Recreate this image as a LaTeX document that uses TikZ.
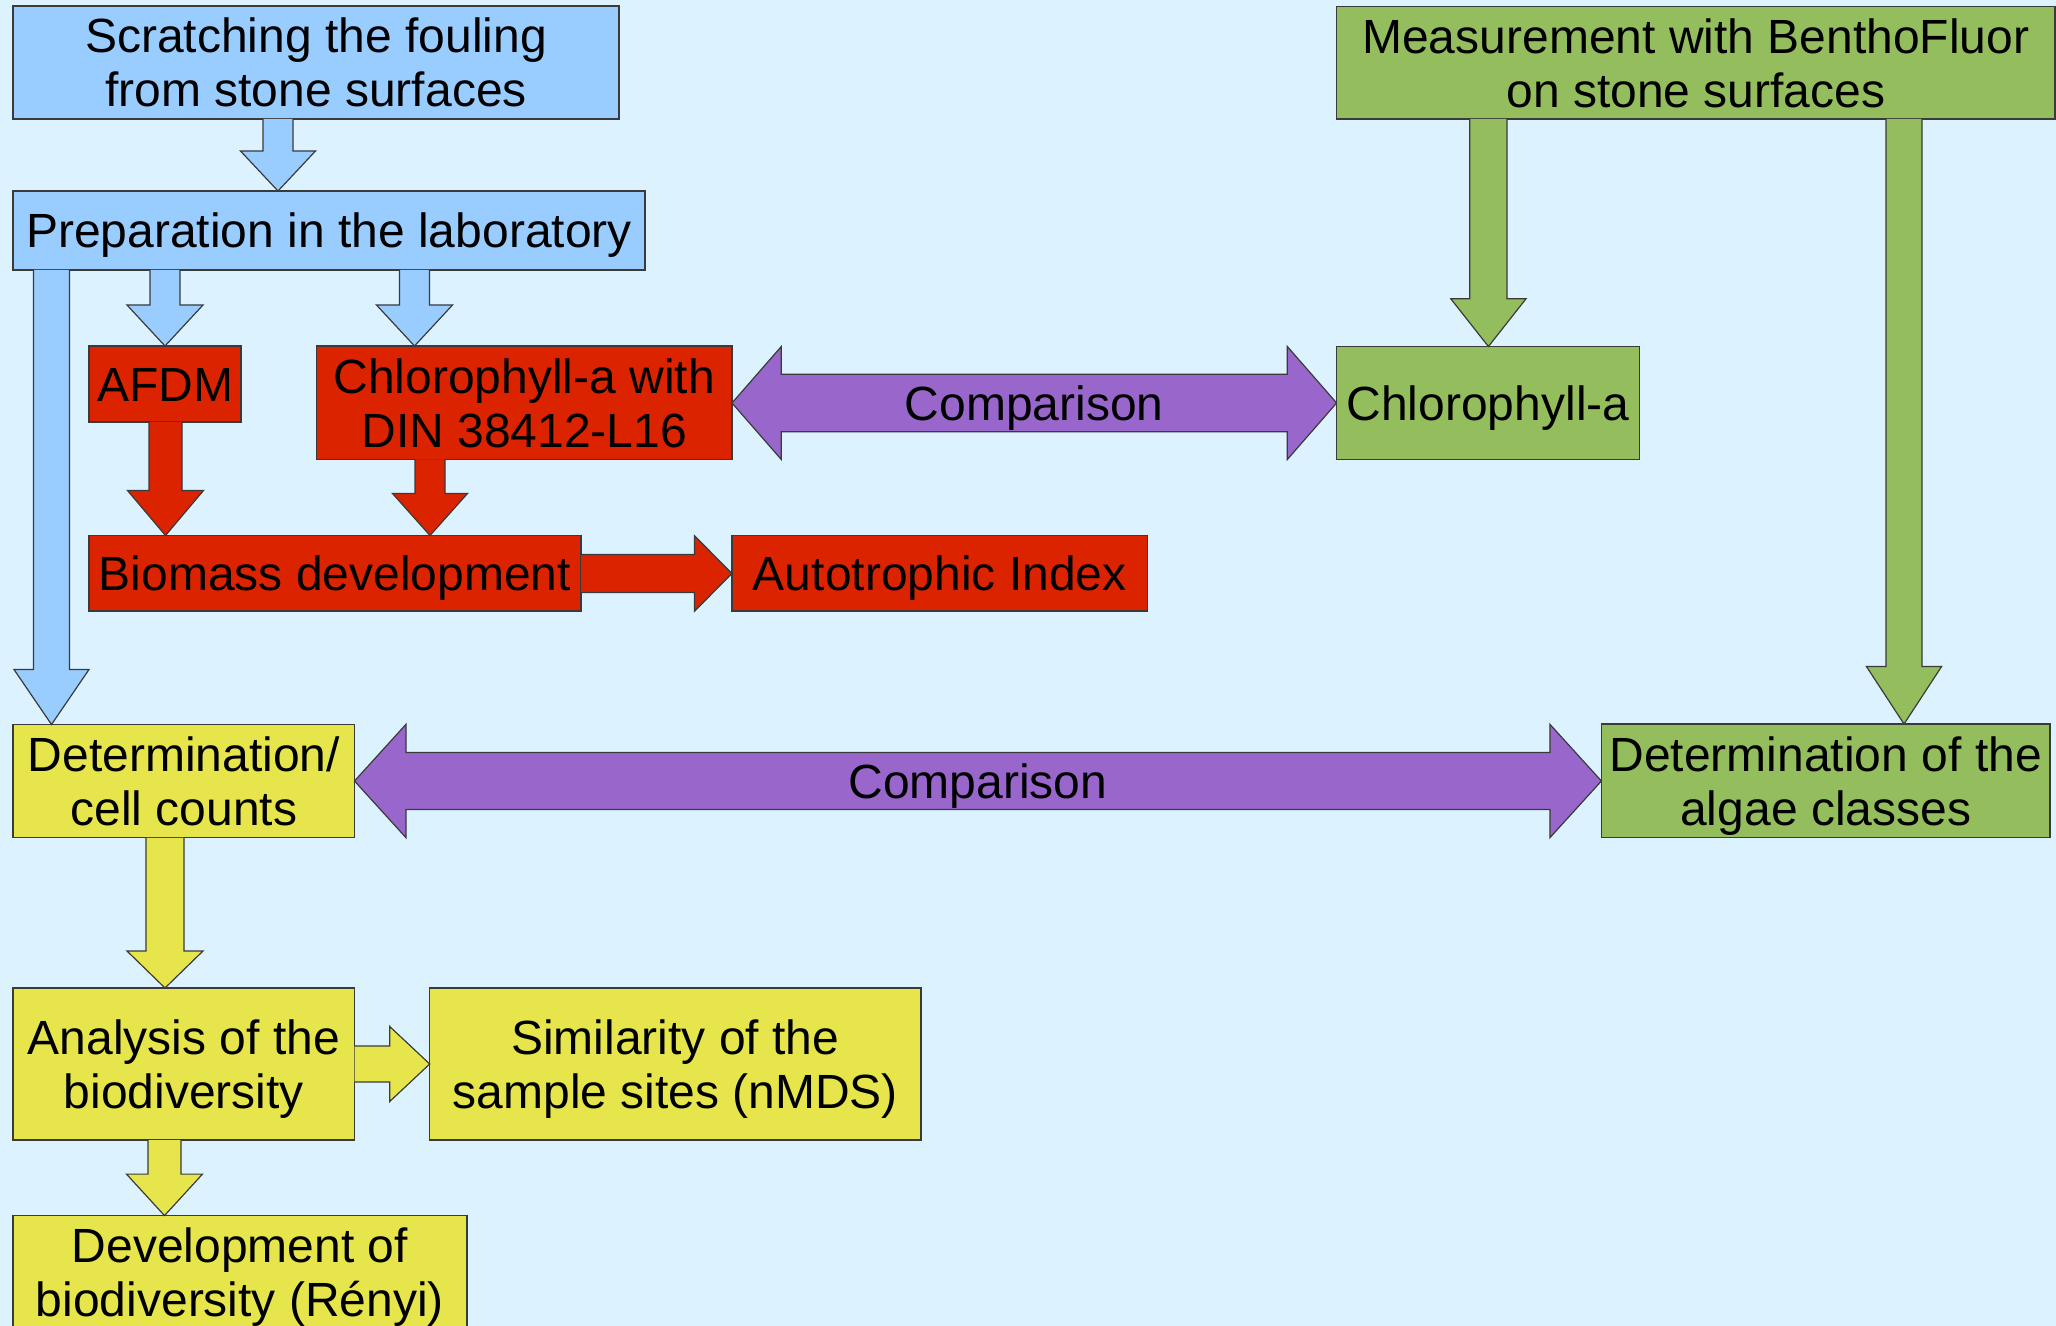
\documentclass[tikz,border=0pt]{standalone}
\usepackage{fontspec}
\setmainfont{Liberation Sans}
\usetikzlibrary{calc}
\definecolor{bgc}{HTML}{DCF3FF}
\definecolor{blu}{HTML}{99CCFF}
\definecolor{redc}{HTML}{DC2300}
\definecolor{grn}{HTML}{94BD5E}
\definecolor{yel}{HTML}{E6E64C}
\definecolor{pur}{HTML}{9966CC}
\definecolor{edge}{HTML}{3A3A3A}
\tikzset{
  box/.style={draw=edge, line width=0.6pt, inner sep=0pt, outer sep=0pt, anchor=north west,
    align=center, font=\fontsize{24}{27}\selectfont},
  oneline/.style={text height=17.3pt, text depth=0pt},
  bbox/.style={box, fill=blu},
  rbox/.style={box, fill=redc},
  gbox/.style={box, fill=grn},
  ybox/.style={box, fill=yel},
  arr/.style={draw=edge, line width=0.6pt, line join=miter},
  lbl/.style={font=\fontsize{24}{27}\selectfont, inner sep=0pt, oneline}
}
% vertical block arrow: style, x centre, from anchor, to anchor, shaft half, head half, head length
\newcommand\varr[7]{%
  \pgfmathsetmacro\xa{#2-#5}\pgfmathsetmacro\xb{#2+#5}%
  \pgfmathsetmacro\xc{#2-#6}\pgfmathsetmacro\xd{#2+#6}%
  \draw[#1] (\xa,0 |- #3) -- ($(\xa,0 |- #4)+(0,-#7)$) -- ($(\xc,0 |- #4)+(0,-#7)$)
    -- (#2,0 |- #4) -- ($(\xd,0 |- #4)+(0,-#7)$) -- ($(\xb,0 |- #4)+(0,-#7)$) -- (\xb,0 |- #3);
}
% horizontal block arrow: style, y centre, from anchor, to anchor, shaft half, head half, head length
\newcommand\harr[7]{%
  \pgfmathsetmacro\ya{#2-#5}\pgfmathsetmacro\yb{#2+#5}%
  \pgfmathsetmacro\yc{#2-#6}\pgfmathsetmacro\yd{#2+#6}%
  \draw[#1] (#3 |- 0,\ya) -- ($(#4 |- 0,\ya)+(-#7,0)$) -- ($(#4 |- 0,\yc)+(-#7,0)$)
    -- (#4 |- 0,#2) -- ($(#4 |- 0,\yd)+(-#7,0)$) -- ($(#4 |- 0,\yb)+(-#7,0)$) -- (#3 |- 0,\yb);
}
% double horizontal block arrow
\newcommand\dharr[7]{%
  \pgfmathsetmacro\ya{#2-#5}\pgfmathsetmacro\yb{#2+#5}%
  \pgfmathsetmacro\yc{#2-#6}\pgfmathsetmacro\yd{#2+#6}%
  \draw[#1] (#3 |- 0,#2) -- ($(#3 |- 0,\yc)+(#7,0)$) -- ($(#3 |- 0,\ya)+(#7,0)$)
    -- ($(#4 |- 0,\ya)+(-#7,0)$) -- ($(#4 |- 0,\yc)+(-#7,0)$) -- (#4 |- 0,#2)
    -- ($(#4 |- 0,\yd)+(-#7,0)$) -- ($(#4 |- 0,\yb)+(-#7,0)$)
    -- ($(#3 |- 0,\yb)+(#7,0)$) -- ($(#3 |- 0,\yd)+(#7,0)$) -- cycle;
}
\begin{document}
\begin{tikzpicture}[x=0.5pt,y=-0.5pt]
\fill[bgc] (0,0) rectangle (2056,1326);
\useasboundingbox (0,0) rectangle (2056,1326);

% boxes
\node[bbox, minimum width=303pt, minimum height=56.5pt] (scratch) at (13,6)
  {Scratching the fouling\\\smash{from stone surfaces}};
\node[bbox, oneline, minimum width=316pt, minimum height=39.5pt] (prep) at (13,191)
  {Preparation in the laboratory};
\node[rbox, oneline, minimum width=76pt, minimum height=38pt] (afdm) at (89,346) {AFDM};
\node[rbox, minimum width=207.75pt, minimum height=56.75pt] (chldin) at (316.5,346)
  {Chlorophyll-a with\\\smash{DIN 38412-L16}};
\node[rbox, oneline, minimum width=246pt, minimum height=37.75pt] (biomass) at (89,535.5)
  {Biomass development};
\node[rbox, oneline, minimum width=207.75pt, minimum height=37.75pt] (auto) at (732,535.5)
  {Autotrophic Index};
\node[gbox, minimum width=359.2pt, minimum height=56.25pt] (meas) at (1336.6,6.5)
  {Measurement with BenthoFluor\\\smash{on stone surfaces}};
\node[gbox, oneline, minimum width=151.4pt, minimum height=56.5pt] (chla) at (1336.6,346.5)
  {Chlorophyll-a};
\node[gbox, minimum width=224.3pt, minimum height=56.8pt] (algae) at (1601.4,724)
  {Determination of the\\\smash{algae classes}};
\node[ybox, minimum width=170.75pt, minimum height=56.65pt] (det) at (13,724.5)
  {Determination/\\\smash{cell counts}};
\node[ybox, minimum width=170.75pt, minimum height=76pt] (analysis) at (13,988)
  {Analysis of the\\\smash{biodiversity}};
\node[ybox, minimum width=245.65pt, minimum height=76pt] (similar) at (429.7,988)
  {Similarity of the\\\smash{sample sites (nMDS)}};
\node[ybox, minimum width=227pt, minimum height=56.75pt] (devel) at (13,1215.6)
  {Development of\\\smash{biodiversity (Rényi)}};

% blue arrows
\varr{arr, fill=blu}{278}{scratch.south}{prep.north}{15}{37.5}{40}
\varr{arr, fill=blu}{165}{prep.south}{afdm.north}{15}{38}{41}
\varr{arr, fill=blu}{414.5}{prep.south}{chldin.north}{15}{38}{41}
\varr{arr, fill=blu}{51.5}{prep.south}{det.north}{18}{37.5}{55}
% red arrows
\varr{arr, fill=redc}{165.5}{afdm.south}{biomass.north}{16.5}{38}{45}
\varr{arr, fill=redc}{430}{chldin.south}{biomass.north}{15}{37.5}{42}
\harr{arr, fill=redc}{573.5}{biomass.east}{auto.west}{19}{37.75}{37.5}
% green arrows
\varr{arr, fill=grn}{1488.4}{meas.south}{chla.north}{18.6}{37.6}{47.7}
\varr{arr, fill=grn}{1904}{meas.south}{algae.north}{18}{37.6}{57.5}
% yellow arrows
\varr{arr, fill=yel}{165}{det.south}{analysis.north}{19}{38}{37}
\harr{arr, fill=yel}{1064}{analysis.east}{similar.west}{18}{37.5}{40}
\varr{arr, fill=yel}{164.5}{analysis.south}{devel.north}{16.5}{38}{41.5}
% purple double arrows
\dharr{arr, fill=pur}{403}{chldin.east}{chla.west}{28.7}{56.5}{49.3}
\dharr{arr, fill=pur}{781}{det.east}{algae.west}{28.5}{56.7}{51.5}
\node[lbl] (cmp1) at ($(chldin.east)!0.5!(chla.west)$) {Comparison};
\node[lbl] (cmp2) at ($(det.east)!0.5!(algae.west)$) {Comparison};
\end{tikzpicture}
\end{document}
